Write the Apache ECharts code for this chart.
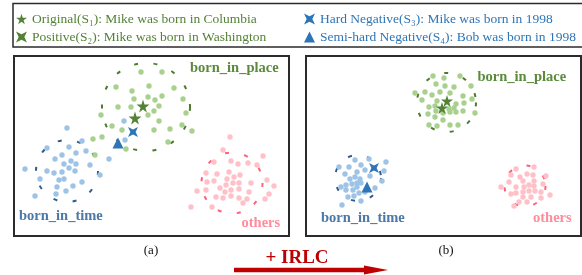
<!DOCTYPE html>
<html>
<head>
<meta charset="utf-8">
<script src="https://cdn.jsdelivr.net/npm/echarts@6/dist/echarts.min.js"></script>
<style>html,body{margin:0;padding:0;background:#fff}#c{width:582px;height:275px}</style>
</head>
<body>
<div id="c"></div>
<script>
// ---------- data (panel-relative embedding coordinates) ----------
const legendNames = [
  'Original(S\u2081): Mike was born in Columbia',
  'Positive(S\u2082): Mike was born in Washington',
  'Hard Negative(S\u2083): Mike was born in 1998',
  'Semi-hard Negative(S\u2084): Bob was born in 1998'
];
const clusterNames = ['born_in_place', 'born_in_time', 'others'];
const panelLabels = ['(a)', '(b)'];
const arrowLabel = '+ IRLC';

// Panel (a)
const placeA = [[127,16],[148,16],[102,31],[135,30],[160,32],[118,35],[134,41],[120,43],[141,44],[148,40],[169,43],
  [104,51],[117,51],[145,50],[140,55],[87,59],[134,59],[172,57],[145,65],[98,70],[108,74],[140,74],[156,73],[168,69],
  [178,75],[88,81],[112,93],[79,83],[81,99],[154,86]];
const timeA = [[53,72],[68,85],[55,91],[33,92],[72,95],[48,99],[62,97],[41,103],[57,105],[50,108],[62,108],[55,112],
  [33,115],[40,117],[48,116],[61,115],[76,109],[11,113],[50,123],[45,124],[26,123],[68,126],[86,119],[43,131],[59,130],
  [52,135],[42,138],[21,140],[95,103],[110,65],[111,84]];
const othersA = [[216,81],[209,94],[249,100],[200,106],[217,105],[224,108],[234,107],[243,109],[192,117],[203,118],
  [215,116],[220,121],[226,119],[193,126],[200,125],[213,123],[219,127],[225,127],[237,127],[253,124],[260,130],[206,132],
  [212,129],[183,135],[192,134],[211,136],[217,134],[225,133],[235,136],[255,138],[202,141],[209,142],[217,140],[225,142],
  [233,143],[251,143],[229,147],[177,151],[198,151]];
const circlesA = [[132,51,44],[53,115,31],[218,127,30.5]];
const s1A = [[129,50]], s2A = [[121,62]], s3A = [[119,76]], s4A = [[104,87]];

// Panel (b)
const placeB = [[127,20],[138,22],[154,20],[130,28],[139,30],[148,31],[109,37],[119,36],[126,39],[134,36],[144,37],
  [157,40],[166,43],[116,44],[131,45],[123,51],[129,50],[150,48],[158,47],[130,55],[143,53],[148,52],[157,55],[169,57],
  [122,58],[137,57],[144,56],[150,56],[129,61],[137,64],[123,69],[131,70],[144,69],[152,69],[165,30]];
const timeB = [[49,104],[63,103],[80,106],[33,111],[43,111],[55,109],[59,114],[39,118],[51,116],[78,115],[64,120],
  [44,123],[49,121],[54,123],[76,125],[40,129],[46,128],[51,127],[55,127],[35,131],[51,131],[40,134],[47,134],[69,132],
  [59,136],[53,137],[42,141],[48,140],[55,145],[36,149]];
const othersB = [[210,113],[228,111],[205,119],[214,121],[221,118],[227,119],[240,120],[203,126],[217,125],[228,125],
  [237,128],[195,131],[210,131],[218,131],[223,129],[228,130],[205,138],[210,137],[217,136],[223,135],[229,135],[235,136],
  [244,139],[217,141],[225,141],[235,142],[213,146],[221,146],[208,150]];
const circlesB = [[140.5,46.5,29.5],[52,122,23],[219,130,20.5]];
const s1B = [[141,45]], s2B = [[136,52]], s3B = [[68,112]], s4B = [[61,131]];

// ---------- styling ----------
const FONT = 'Liberation Serif';
const dotColors = ['#a9d18e', '#9dc3e6', '#ffc0c8'];
const ringColors = ['#4f7a2c', '#2f5a8c', '#ff5f7a'];
const labelColors = ['#5a8a3a', '#4a78a8', '#ff8b9b'];
const STAR5 = 'path://M50,0 L61,35 L98,35 L68,57 L79,91 L50,70 L21,91 L32,57 L2,35 L39,35 Z';
const XSTAR = 'path://M0,0 L50,24 L100,0 L76,50 L100,100 L50,76 L0,100 L24,50 Z';
const greenDark = '#548235', blueDark = '#2e75b6';

function dots(data, ci, gi) {
  return {type:'scatter', xAxisIndex:gi, yAxisIndex:gi, data:data, symbol:'circle', symbolSize:5.4,
    itemStyle:{color:dotColors[ci], opacity:1}, silent:true, z:2};
}
function rings(data, gi) {
  return {type:'custom', xAxisIndex:gi, yAxisIndex:gi, data:data, silent:true, z:1,
    encode:{x:0, y:1},
    renderItem:function(params, api){
      const c = api.coord([api.value(0), api.value(1)]);
      const s = api.size([api.value(2), api.value(2)]);
      return {type:'circle', shape:{cx:c[0], cy:c[1], r:s[0]},
        style:{fill:null, stroke:ringColors[params.dataIndex], lineWidth:2, lineDash:[4,15.5]}};
    }};
}
function marker(name, data, gi, symbol, size, color) {
  return {name:name, type:'scatter', xAxisIndex:gi, yAxisIndex:gi, data:data, symbol:symbol,
    symbolSize:size, itemStyle:{color:color, opacity:1}, silent:true, z:5};
}

const chart = echarts.init(document.getElementById('c'), null, {renderer:'canvas'});
const grids = [
  {left:14, top:56, width:275, height:180, show:true, borderColor:'#2b2b2b', borderWidth:2, backgroundColor:'#fff'},
  {left:306, top:56, width:275, height:180, show:true, borderColor:'#2b2b2b', borderWidth:2, backgroundColor:'#fff'}
];
const xAxes = [0,1].map(i => ({type:'value', gridIndex:i, min:0, max:275, show:false}));
const yAxes = [0,1].map(i => ({type:'value', gridIndex:i, min:0, max:180, inverse:true, show:false}));

const series = [
  rings(circlesA, 0), dots(placeA, 0, 0), dots(timeA, 1, 0), dots(othersA, 2, 0),
  marker(legendNames[0], s1A, 0, STAR5, 13, greenDark),
  marker(legendNames[1], s2A, 0, STAR5, 13, greenDark),
  marker(legendNames[2], s3A, 0, XSTAR, 10, blueDark),
  marker(legendNames[3], s4A, 0, 'triangle', 11, blueDark),
  rings(circlesB, 1), dots(placeB, 0, 1), dots(timeB, 1, 1), dots(othersB, 2, 1),
  marker(legendNames[0], s1B, 1, STAR5, 12, greenDark),
  marker(legendNames[1], s2B, 1, STAR5, 12, greenDark),
  marker(legendNames[2], s3B, 1, XSTAR, 10, blueDark),
  marker(legendNames[3], s4B, 1, 'triangle', 11, blueDark)
];

const legendBase = {orient:'vertical', top:12, itemGap:4, itemWidth:11, itemHeight:11, selectedMode:false,
  padding:0};
const legends = [
  Object.assign({}, legendBase, {left:16, data:[{name:legendNames[0], icon:STAR5}, {name:legendNames[1], icon:XSTAR}],
    textStyle:{fontFamily:FONT, fontSize:13.5, color:greenDark, lineHeight:14}}),
  Object.assign({}, legendBase, {left:304, data:[{name:legendNames[2], icon:XSTAR}, {name:legendNames[3], icon:'triangle'}],
    textStyle:{fontFamily:FONT, fontSize:13.5, color:blueDark, lineHeight:14}})
];

function clusterText(text, x, y, ci) {
  return {type:'text', x:x, y:y, z:10, style:{text:text, fill:labelColors[ci], font:'bold 14.5px ' + FONT,
    textVerticalAlign:'middle', textAlign:'left'}};
}

const graphic = [
  {type:'rect', shape:{x:13, y:3.5, width:580, height:43.5}, style:{fill:null, stroke:'#2b2b2b', lineWidth:1.5}, z:0},
  clusterText(clusterNames[0], 190, 68.5, 0),
  clusterText(clusterNames[1], 19, 216, 1),
  clusterText(clusterNames[2], 241.5, 223, 2),
  clusterText(clusterNames[0], 477.5, 77.5, 0),
  clusterText(clusterNames[1], 321, 218.5, 1),
  clusterText(clusterNames[2], 533, 218.5, 2),
  {type:'text', x:151, y:251, style:{text:panelLabels[0], fill:'#111', font:'13px ' + FONT, textAlign:'center', textVerticalAlign:'middle'}},
  {type:'text', x:446, y:251, style:{text:panelLabels[1], fill:'#111', font:'13px ' + FONT, textAlign:'center', textVerticalAlign:'middle'}},
  {type:'text', x:297, y:258, style:{text:arrowLabel, fill:'#c00000', font:'bold 19px ' + FONT, textAlign:'center', textVerticalAlign:'middle'}},
  {type:'line', shape:{x1:234, y1:270, x2:368, y2:270}, style:{stroke:'#c00000', lineWidth:4.5}},
  {type:'polygon', shape:{points:[[364,265.5],[388,270],[364,274.5]]}, style:{fill:'#c00000'}}
];

chart.setOption({
  animation:false,
  backgroundColor:'#fff',
  grid:grids, xAxis:xAxes, yAxis:yAxes,
  legend:legends,
  series:series,
  graphic:graphic
});
</script>
</body>
</html>
